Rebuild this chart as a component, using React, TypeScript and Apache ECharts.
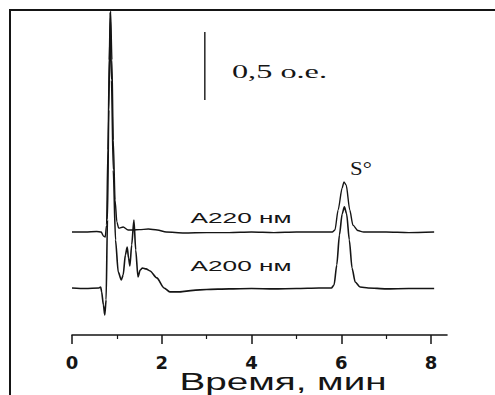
import React, { useEffect, useRef } from "react";
import * as echarts from "echarts";

// Retention times (min) and signal deviation from baseline (o.e.)
const timesA220 = [0, 0.3, 0.55, 0.65, 0.7, 0.74, 0.77, 0.8, 0.83, 0.86, 0.89, 0.92, 0.96, 1.0, 1.04, 1.14, 1.25, 1.36, 1.5, 1.7, 1.9, 2.1, 2.5, 3.0, 3.5, 4.0, 4.5, 5.0, 5.5, 5.8, 5.86, 5.93, 6.02, 6.06, 6.11, 6.19, 6.26, 6.37, 6.5, 7.0, 7.5, 8.07];
const signalA220 = [0, 0, 0.004, 0, -0.029, -0.037, 0.051, 0.603, 1.265, 1.625, 1.265, 0.676, 0.235, 0.074, 0.029, 0.037, 0.015, 0.015, 0.018, 0.022, 0.015, 0, -0.007, -0.004, -0.004, 0, -0.004, 0, 0, 0, 0.015, 0.162, 0.324, 0.368, 0.346, 0.162, 0.051, 0.011, 0, 0, -0.004, 0];

const timesA200 = [0, 0.3, 0.6, 0.64, 0.66, 0.7, 0.73, 0.76, 0.79, 0.82, 0.85, 0.88, 0.92, 0.97, 1.03, 1.1, 1.14, 1.19, 1.23, 1.26, 1.29, 1.33, 1.38, 1.42, 1.47, 1.52, 1.57, 1.65, 1.74, 1.89, 2.05, 2.18, 2.4, 2.7, 3.0, 3.5, 4.0, 4.5, 5.0, 5.5, 5.78, 5.84, 5.9, 5.96, 6.02, 6.07, 6.12, 6.18, 6.24, 6.31, 6.42, 6.6, 7.0, 7.5, 8.07];
const signalA200 = [0, -0.004, 0, 0.007, -0.029, -0.125, -0.199, -0.088, 0.5, 1.309, 2.029, 1.529, 0.868, 0.353, 0.118, 0.059, 0.096, 0.243, 0.301, 0.221, 0.162, 0.316, 0.5, 0.279, 0.081, 0.132, 0.147, 0.14, 0.125, 0.074, 0, -0.029, -0.029, -0.018, -0.011, -0.007, -0.004, -0.007, -0.004, 0, 0, 0.022, 0.169, 0.39, 0.544, 0.596, 0.544, 0.353, 0.147, 0.044, 0.007, 0, -0.007, -0.004, -0.004];

// Vertical offsets of the two traces (o.e.)
const offsetA220 = 0.757;
const offsetA200 = 0.346;

// Scale bar: 0.5 o.e.
const scaleBarTime = 2.96;
const scaleBarBottom = 1.728;
const scaleBarLength = 0.5;

const xTickLabels = ["0", "2", "4", "6", "8"];
const xAxisTitle = "Время, мин";
const traceLabels = ["A220 нм", "A200 нм"];
const scaleLabel = "0,5 o.e.";
const peakLabel = "S°";

export default function App() {
  const ref = useRef<HTMLDivElement>(null);

  useEffect(() => {
    if (!ref.current) return;
    const chart = echarts.init(ref.current, null, { renderer: "svg" });
    const ink = "#151515";

    const a220 = timesA220.map((t, i) => [t, signalA220[i] + offsetA220]);
    const a200 = timesA200.map((t, i) => [t, signalA200[i] + offsetA200]);
    const bar = [
      [scaleBarTime, scaleBarBottom],
      [scaleBarTime, scaleBarBottom + scaleBarLength],
    ];

    const gridTop = 335 - 136 * 2.4;

    chart.setOption({
      animation: false,
      backgroundColor: "#ffffff",
      grid: [
        { left: 72, right: 48, top: gridTop, bottom: 60, containLabel: false, outerBoundsMode: "none" },
        { left: 72, right: 64, top: gridTop, bottom: 60, containLabel: false, outerBoundsMode: "none" },
      ],
      xAxis: [
        {
          type: "value",
          gridIndex: 0,
          min: 0,
          max: 375 / 44.875,
          axisLine: { show: true, lineStyle: { color: ink, width: 1.6 } },
          axisTick: { show: false },
          axisLabel: { show: false },
          splitLine: { show: false },
        },
        {
          type: "value",
          gridIndex: 1,
          min: 0,
          max: 8,
          interval: 2,
          axisLine: { show: false },
          axisTick: { show: true, inside: false, length: 9, lineStyle: { color: ink, width: 1.5 } },
          minorTick: { show: true, splitNumber: 2, length: 4, lineStyle: { color: ink, width: 1.2 } },
          axisLabel: {
            show: true,
            margin: 18,
            color: ink,
            fontFamily: "DejaVu Sans",
            fontWeight: "bold",
            fontSize: 18,
            formatter: (v: number) => {
              const idx = Math.round(v / 2);
              return Math.abs(v - idx * 2) < 1e-6 && xTickLabels[idx] !== undefined ? xTickLabels[idx] : "";
            },
          },
          splitLine: { show: false },
          minorSplitLine: { show: false },
        },
      ],
      yAxis: [
        { type: "value", gridIndex: 0, min: 0, max: 2.4, show: false },
        { type: "value", gridIndex: 1, min: 0, max: 2.4, show: false },
      ],
      series: [
        {
          type: "line",
          name: traceLabels[0],
          xAxisIndex: 0,
          yAxisIndex: 0,
          data: a220,
          showSymbol: false,
          smooth: 0.25,
          smoothMonotone: "x",
          lineStyle: { color: ink, width: 1.4 },
          silent: true,
        },
        {
          type: "line",
          name: traceLabels[1],
          xAxisIndex: 0,
          yAxisIndex: 0,
          data: a200,
          showSymbol: false,
          smooth: 0.25,
          smoothMonotone: "x",
          lineStyle: { color: ink, width: 1.6 },
          silent: true,
        },
        {
          type: "line",
          name: "scale",
          xAxisIndex: 0,
          yAxisIndex: 0,
          data: bar,
          showSymbol: false,
          lineStyle: { color: ink, width: 1.4 },
          silent: true,
        },
      ],
      graphic: [
        { type: "line", shape: { x1: 9, y1: 10, x2: 495, y2: 10 }, style: { stroke: ink, lineWidth: 2 } },
        { type: "line", shape: { x1: 10, y1: 9, x2: 10, y2: 395 }, style: { stroke: ink, lineWidth: 2 } },
        {
          type: "text",
          x: 279.5,
          y: 72,
          scaleX: 1.7,
          style: { text: scaleLabel, fontFamily: "Liberation Serif", fontSize: 19, fill: ink, align: "center", verticalAlign: "middle" },
        },
        {
          type: "text",
          x: 241,
          y: 218,
          scaleX: 1.75,
          style: { text: traceLabels[0], fontFamily: "Liberation Sans", fontSize: 15, fill: ink, align: "center", verticalAlign: "middle" },
        },
        {
          type: "text",
          x: 241,
          y: 266,
          scaleX: 1.75,
          style: { text: traceLabels[1], fontFamily: "Liberation Sans", fontSize: 15, fill: ink, align: "center", verticalAlign: "middle" },
        },
        {
          type: "text",
          x: 361,
          y: 169,
          scaleX: 1.2,
          style: { text: peakLabel, fontFamily: "Liberation Serif", fontSize: 19, fill: ink, align: "center", verticalAlign: "middle" },
        },
        {
          type: "text",
          x: 283,
          y: 382.5,
          scaleX: 1.68,
          style: { text: xAxisTitle, fontFamily: "Liberation Sans", fontSize: 23, fill: ink, align: "center", verticalAlign: "middle" },
        },
      ],
    });

    return () => chart.dispose();
  }, []);

  return (
    <div
      ref={ref}
      style={{ position: "absolute", left: 0, top: 0, width: 495, height: 395, background: "#fff" }}
    />
  );
}
